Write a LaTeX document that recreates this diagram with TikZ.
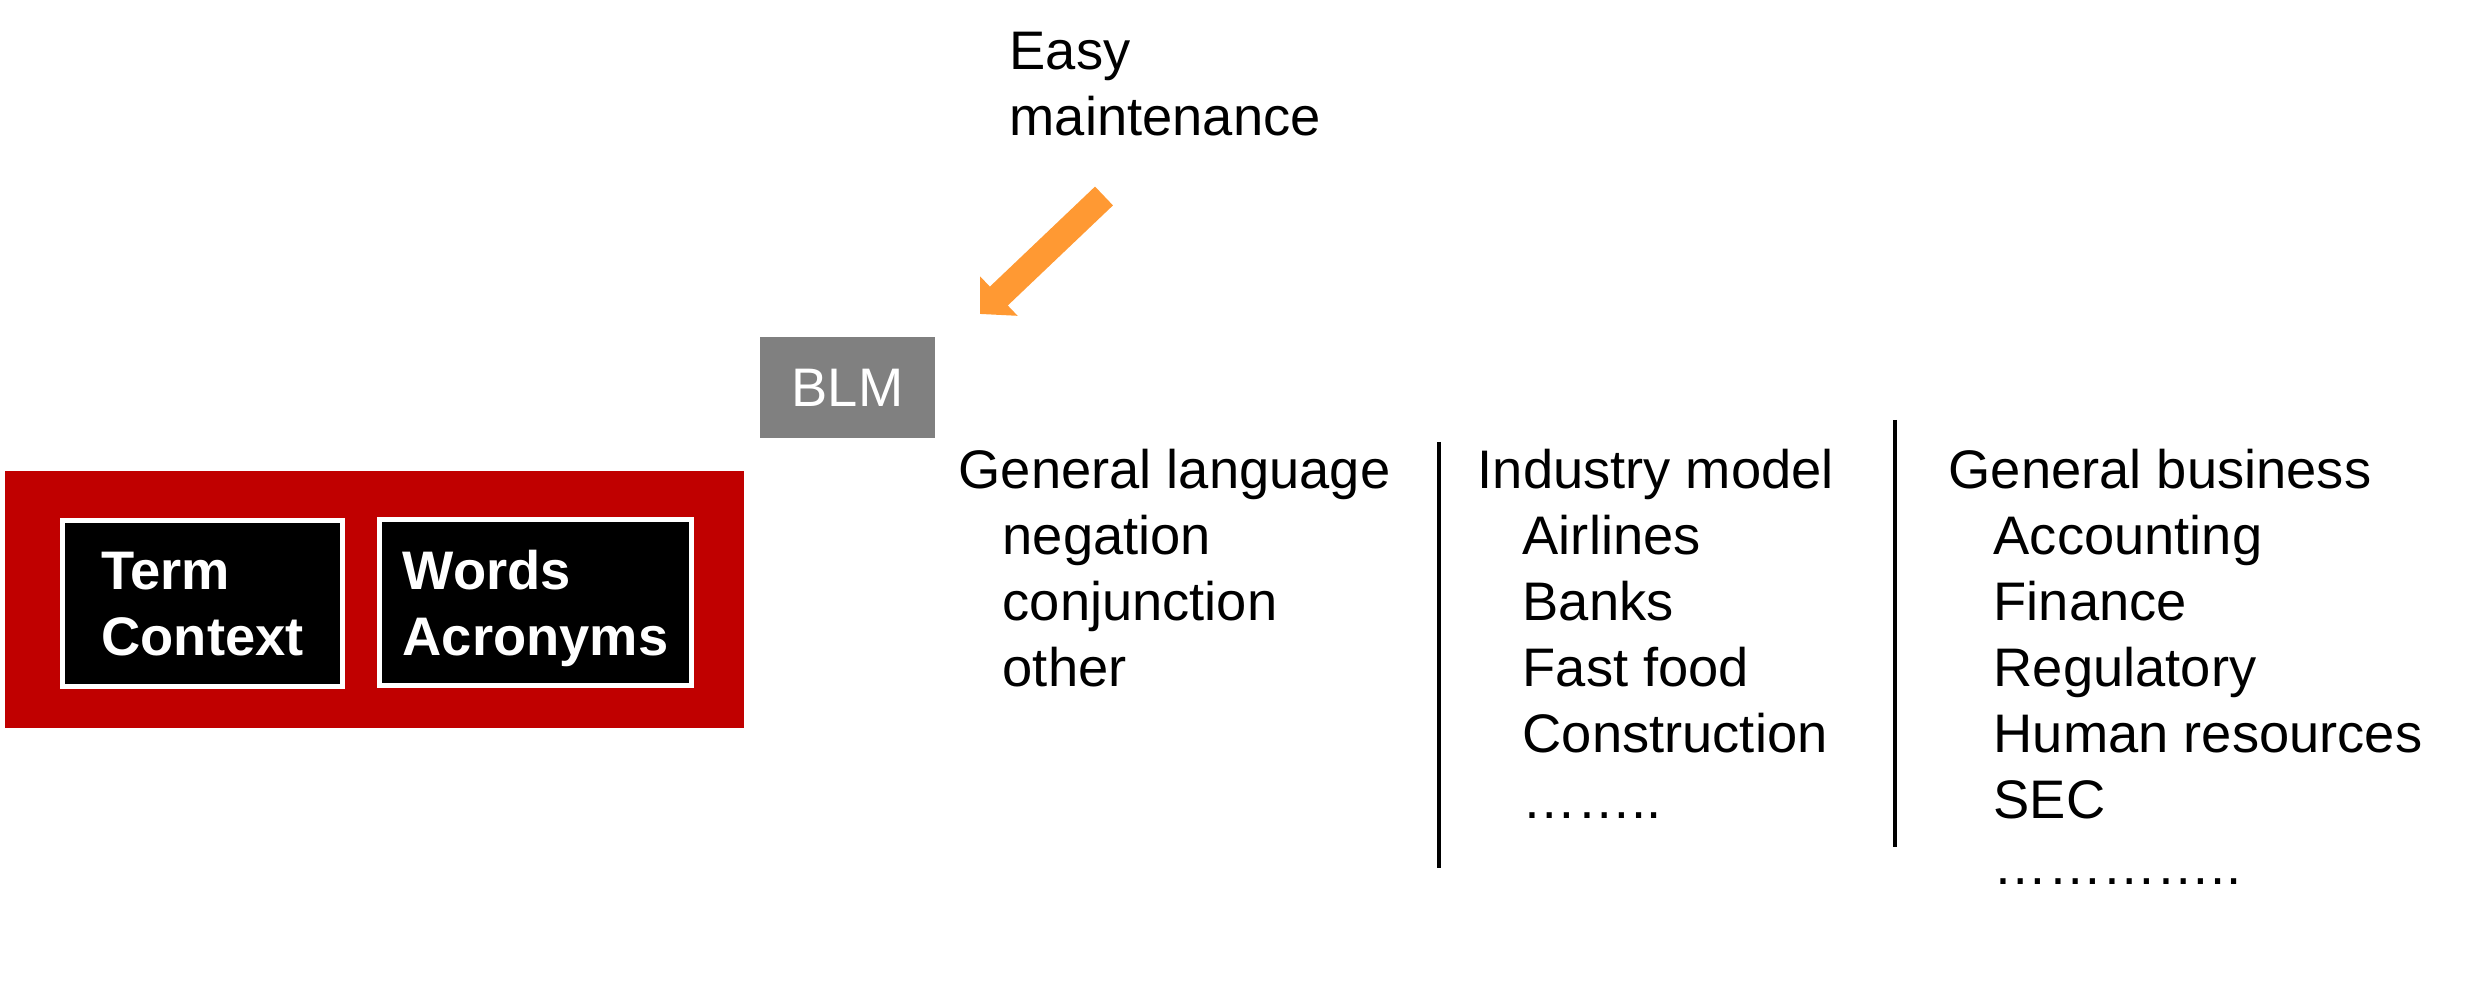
\documentclass[tikz,border=0pt]{standalone}
\usepackage{fontspec}
\setmainfont{Liberation Sans}
\usepackage{tikz}
\usetikzlibrary{arrows.meta}
\definecolor{redframe}{HTML}{C00000}
\definecolor{blmgray}{HTML}{808080}
\definecolor{hint}{HTML}{FF9933}
\newcommand{\slidefont}{\fontsize{15.45}{18.78}\selectfont}
\tikzset{redframe/.style={draw=none,fill=redframe,rectangle,minimum width=7.39cm,minimum height=2.57cm}}
\tikzset{termbox/.style={white,draw=white,fill=black,line width=1.3pt,rectangle,minimum height=1.66cm,text depth=0pt,align=left,font=\slidefont\bfseries}}
\tikzset{blmbox/.style={white,fill=blmgray,rectangle,minimum width=1.75cm,minimum height=1.01cm,font=\slidefont}}
\tikzset{txt/.style={black,inner sep=0pt,anchor=base west,align=left,font=\slidefont}}
\tikzset{hint/.style={draw=hint,line width=0.26cm,-{Triangle[width=0.53cm,length=0.26cm]}}}
\tikzset{divider/.style={black,line width=1.2pt}}
\begin{document}
\begin{tikzpicture}
    \useasboundingbox (0,0) rectangle (24.65,9.85);

    \node[redframe] (frame) at (3.745,3.855) {};
    \node[termbox,minimum width=2.80cm] (term) at (2.025,3.815)
    {Term\\Context};
    \node[termbox,minimum width=3.12cm] (words) at (5.355,3.825)
    {Words\\Acronyms};

    \node[blmbox] (blm) at (8.475,5.975) {BLM};

    % base of a node with several lines is the base of its last line
    \node[txt] (easy) at (10.09,8.49) {Easy\\maintenance};
    \coordinate (hinttail) at (11.04,7.89);
    \coordinate (hinttip) at (9.80,6.71);
    \draw[hint] (hinttail) -- (hinttip);

    \node[txt] (langhead) at (9.58,4.96) {General language};
    \node[txt] (langlist) at (10.02,2.98) {negation\\conjunction\\other};

    \node[txt] (indhead) at (14.77,4.96) {Industry model};
    \node[txt] (indlist) at (15.22,1.66)
    {Airlines\\Banks\\Fast food\\Construction\\……..};

    \node[txt] (bushead) at (19.48,4.96) {General business};
    \node[txt] (buslist) at (19.93,1.00)
    {Accounting\\Finance\\Regulatory\\Human resources\\SEC\\…………..};

    \coordinate (sepatop) at (14.39,5.43);
    \coordinate (sepabot) at (14.39,1.17);
    \coordinate (sepbtop) at (18.95,5.65);
    \coordinate (sepbbot) at (18.95,1.38);
    \draw[divider] (sepatop) -- (sepabot);
    \draw[divider] (sepbtop) -- (sepbbot);
  \end{tikzpicture}
\end{document}
